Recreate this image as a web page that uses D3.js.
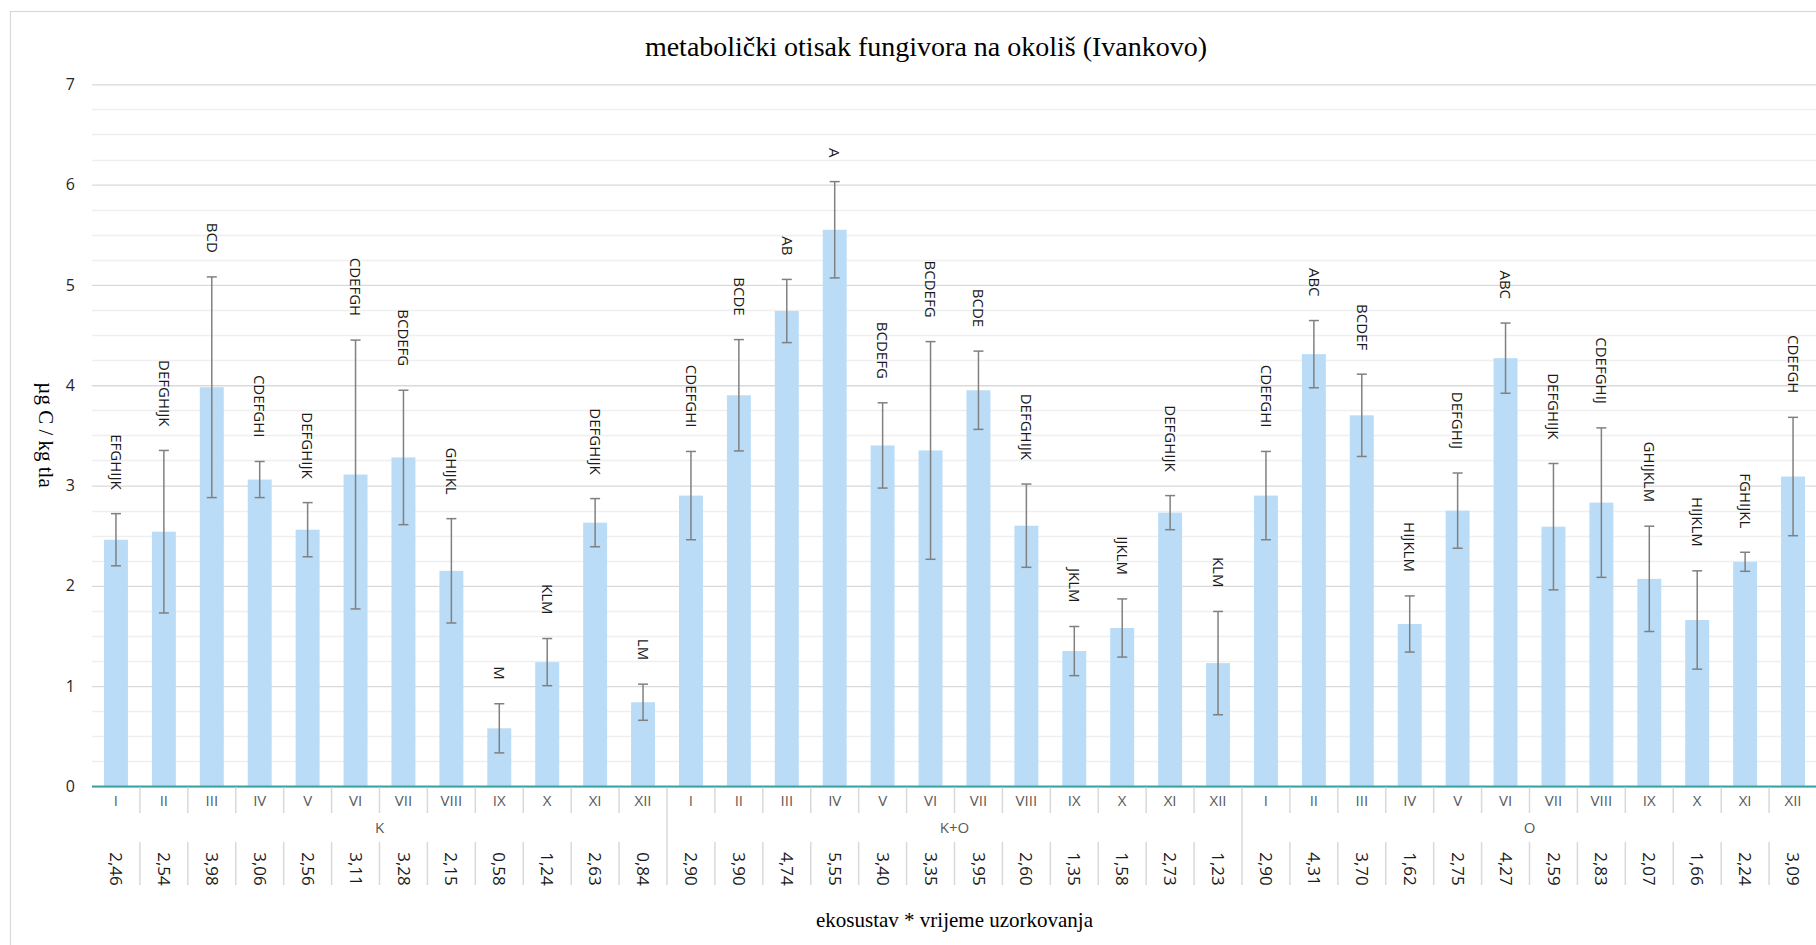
<!DOCTYPE html>
<html><head><meta charset="utf-8">
<script src="https://cdn.jsdelivr.net/npm/d3@7"></script>
<style>body{margin:0;background:#fff;}svg{display:block;}</style>
</head><body>
<script>
const groups = ["K", "K+O", "O"];
const months = ["I","II","III","IV","V","VI","VII","VIII","IX","X","XI","XII"];
const valuesK  = [2.46,2.54,3.98,3.06,2.56,3.11,3.28,2.15,0.58,1.24,2.63,0.84];
const valuesKO = [2.90,3.90,4.74,5.55,3.40,3.35,3.95,2.60,1.35,1.58,2.73,1.23];
const valuesO  = [2.90,4.31,3.70,1.62,2.75,4.27,2.59,2.83,2.07,1.66,2.24,3.09];
const errK  = [0.26,0.81,1.10,0.18,0.27,1.34,0.67,0.52,0.245,0.235,0.24,0.18];
const errKO = [0.44,0.555,0.315,0.48,0.425,1.085,0.39,0.415,0.245,0.29,0.17,0.515];
const errO  = [0.44,0.335,0.41,0.28,0.375,0.35,0.63,0.745,0.525,0.49,0.095,0.59];
const lettersK  = ["EFGHIJK","DEFGHIJK","BCD","CDEFGHI","DEFGHIJK","CDEFGH","BCDEFG","GHIJKL","M","KLM","DEFGHIJK","LM"];
const lettersKO = ["CDEFGHI","BCDE","AB","A","BCDEFG","BCDEFG","BCDE","DEFGHIJK","JKLM","IJKLM","DEFGHIJK","KLM"];
const lettersO  = ["CDEFGHI","ABC","BCDEF","HIJKLM","DEFGHIJ","ABC","DEFGHIJK","CDEFGHIJ","GHIJKLM","HIJKLM","FGHIJKL","CDEFGH"];
const yTicks = [0,1,2,3,4,5,6,7];
const titleText = "metabolički otisak fungivora na okoliš (Ivankovo)";
const yTitle = "µg C / kg tla";
const xTitle = "ekosustav * vrijeme uzorkovanja";

const seriesVals = [valuesK, valuesKO, valuesO];
const seriesErr = [errK, errKO, errO];
const seriesLet = [lettersK, lettersKO, lettersO];
const data = [];
groups.forEach((g, gi) => months.forEach((m, mi) => data.push({
  key: g + "-" + m, group: g, month: m, gi, mi,
  v: seriesVals[gi][mi], e: seriesErr[gi][mi], lab: seriesLet[gi][mi]
})));

const W = 1816, H = 945;
const x0 = 92, x1 = 1817, yBase = 786.5, yTop = 84.3;
const svg = d3.select("body").append("svg").attr("width", W).attr("height", H);

svg.append("rect").attr("x", 10.5).attr("y", 11.5).attr("width", 1900).attr("height", 1000)
  .attr("fill", "#fff").attr("stroke", "#d9d9d9").attr("stroke-width", 1.2);

const x = d3.scaleBand().domain(data.map(d => d.key)).range([x0, x1]).paddingInner(0.5).paddingOuter(0.25);
const y = d3.scaleLinear().domain([0, 7]).range([yBase, yTop]);
const step = x.step();

// minor gridlines
const minor = d3.range(0, 7.001, 0.25).filter(v => Math.abs(v - Math.round(v)) > 1e-6);
svg.append("g").selectAll("line").data(minor).join("line")
  .attr("x1", x0).attr("x2", x1).attr("y1", d => Math.round(y(d)) + 0.5).attr("y2", d => Math.round(y(d)) + 0.5)
  .attr("stroke", "#efefef").attr("stroke-width", 1.3);
// major gridlines via axis
const yAxis = d3.axisLeft(y).tickValues(yTicks).tickSize(-(x1 - x0)).tickFormat(d3.format("d"));
const ya = svg.append("g").attr("transform", `translate(${x0},0)`).call(yAxis);
ya.select(".domain").remove();
ya.selectAll(".tick line").attr("stroke", "#d9d9d9").attr("stroke-width", 1.3);
ya.selectAll(".tick text").attr("x", -17).attr("fill", "#262626")
  .style("font-family", "'Open Sans'").style("font-size", "16px");

// bars
svg.append("g").selectAll("rect").data(data).join("rect")
  .attr("x", d => x(d.key)).attr("width", x.bandwidth())
  .attr("y", d => y(d.v)).attr("height", d => y(0) - y(d.v))
  .attr("fill", "#badcf7");

// error bars
const eb = svg.append("g").attr("stroke", "#808080").attr("stroke-width", 1.5);
const cx = d => x(d.key) + x.bandwidth() / 2;
eb.selectAll("line.v").data(data).join("line").attr("class", "v")
  .attr("x1", cx).attr("x2", cx).attr("y1", d => y(d.v + d.e)).attr("y2", d => y(d.v - d.e));
eb.selectAll("line.t").data(data).join("line").attr("class", "t")
  .attr("x1", d => cx(d) - 5).attr("x2", d => cx(d) + 5).attr("y1", d => y(d.v + d.e)).attr("y2", d => y(d.v + d.e));
eb.selectAll("line.b").data(data).join("line").attr("class", "b")
  .attr("x1", d => cx(d) - 5).attr("x2", d => cx(d) + 5).attr("y1", d => y(d.v - d.e)).attr("y2", d => y(d.v - d.e));

// letter labels
svg.append("g").selectAll("text").data(data).join("text")
  .attr("transform", d => `translate(${cx(d)},${y(d.v + d.e) - 24}) rotate(90)`)
  .attr("text-anchor", "end").attr("dy", "0.35em")
  .style("font-family", "'Open Sans'").style("font-size", "15px").attr("fill", "#1a1a1a")
  .text(d => d.lab);

// x axis line
svg.append("line").attr("x1", x0).attr("x2", x1).attr("y1", yBase).attr("y2", yBase)
  .attr("stroke", "#3aa3a3").attr("stroke-width", 2);

// category separators
const sep = svg.append("g").attr("stroke", "#d9d9d9").attr("stroke-width", 1.5);
d3.range(1, data.length).forEach(i => {
  const xx = x0 + i * step;
  if (i % 12 === 0) {
    sep.append("line").attr("x1", xx).attr("x2", xx).attr("y1", yBase + 1).attr("y2", 885);
  } else {
    sep.append("line").attr("x1", xx).attr("x2", xx).attr("y1", yBase + 1).attr("y2", 813);
    sep.append("line").attr("x1", xx).attr("x2", xx).attr("y1", 842).attr("y2", 885);
  }
});

// month labels
svg.append("g").selectAll("text").data(data).join("text")
  .attr("x", cx).attr("y", 800.5).attr("dy", "0.35em").attr("text-anchor", "middle")
  .style("font-family", "'Open Sans'").style("font-size", "15px").attr("fill", "#595959")
  .text(d => d.month);

// group labels
svg.append("g").selectAll("text").data(groups).join("text")
  .attr("x", (g, gi) => x0 + (gi * 12 + 6) * step).attr("y", 828).attr("dy", "0.35em").attr("text-anchor", "middle")
  .style("font-family", "'Open Sans'").style("font-size", "15px").attr("fill", "#595959")
  .text(g => g);

// value row
const fmt = d3.format(".2f");
svg.append("g").selectAll("text").data(data).join("text")
  .attr("transform", d => `translate(${cx(d)},869) rotate(90)`)
  .attr("text-anchor", "middle").attr("dy", "0.35em")
  .style("font-family", "'Open Sans'").style("font-size", "17px").attr("fill", "#1a1a1a")
  .text(d => fmt(d.v).replace(".", ","));

// titles
svg.append("text").attr("x", 926).attr("y", 56).attr("text-anchor", "middle")
  .style("font-family", "'Liberation Serif'").style("font-size", "28px").attr("fill", "#000")
  .text(titleText);
svg.append("text").attr("x", 954.5).attr("y", 927).attr("text-anchor", "middle")
  .style("font-family", "'Liberation Serif'").style("font-size", "21px").attr("fill", "#000")
  .text(xTitle);
svg.append("text").attr("transform", "translate(39,435) rotate(90)").attr("text-anchor", "middle")
  .style("font-family", "'Liberation Serif'").style("font-size", "21px").attr("fill", "#000")
  .text(yTitle);
</script>
</body></html>
